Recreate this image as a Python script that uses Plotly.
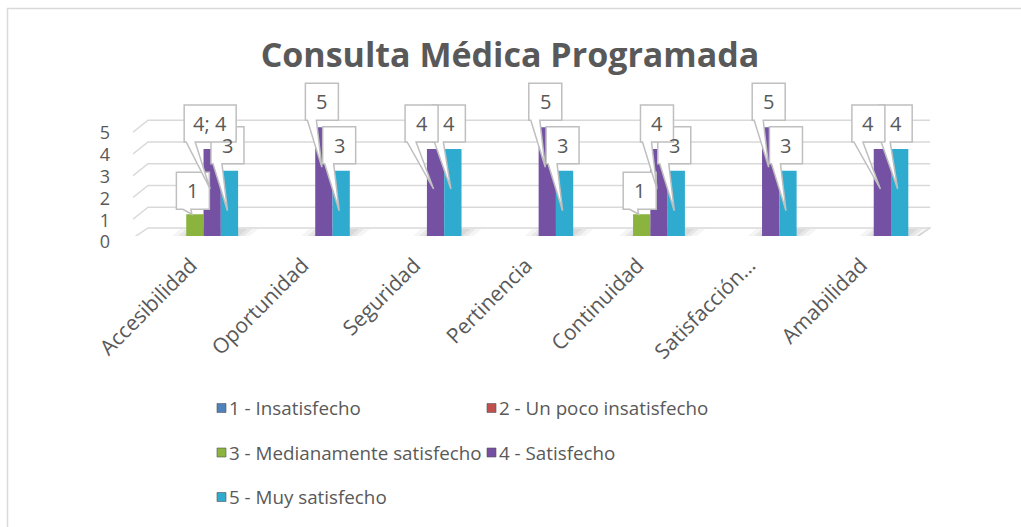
import plotly.graph_objects as go

# ---- data -------------------------------------------------------------
categories = ["Accesibilidad", "Oportunidad", "Seguridad", "Pertinencia",
              "Continuidad", "Satisfacción…", "Amabilidad"]
series_names = ["1 - Insatisfecho", "2 - Un poco insatisfecho",
                "3 - Medianamente satisfecho", "4 - Satisfecho",
                "5 - Muy satisfecho"]
insatisfecho = [0, 0, 0, 0, 0, 0, 0]
poco_insatisfecho = [0, 0, 0, 0, 0, 0, 0]
medianamente_satisfecho = [1, 0, 0, 0, 1, 0, 0]
satisfecho = [4, 5, 4, 5, 4, 5, 4]
muy_satisfecho = [3, 3, 4, 3, 3, 3, 4]
y_ticks = [0, 1, 2, 3, 4, 5]
# the Accesibilidad label of "4 - Satisfecho" is printed as "4; 4"
doubled_label = {(3, 0)}

series_values = [insatisfecho, poco_insatisfecho, medianamente_satisfecho,
                 satisfecho, muy_satisfecho]
bar_colors = ["#4F81BD", "#C0504D", "#8AB43D", "#7451A3", "#2FABD0"]

# ---- geometry ---------------------------------------------------------
W, H = 1021, 527
M_L, M_R, M_T, M_B = 133, 90, 51, 291
PW, PH = W - M_L - M_R, H - M_T - M_B
X_RANGE = [-0.554, 6.59]
Y_RANGE = [0, 8.5]
BARGAP = 0.226
N = len(series_values)
SLOT = (1 - BARGAP) / N
SLOT_PX = SLOT * PW / (X_RANGE[1] - X_RANGE[0])
TXT = "#595959"
GRID = "#D9D9D9"
FONT = "Open Sans"


def px_x(px):
    return (px - M_L) / PW


def px_y(py):
    return (H - M_B - py) / PH


fig = go.Figure()
for name, vals, col in zip(series_names, series_values, bar_colors):
    fig.add_trace(go.Bar(
        x=list(range(len(categories))), y=vals, name=name,
        marker=dict(color=col, line=dict(width=0)),
        showlegend=False, hoverinfo="skip"))

shapes = []
annotations = []

# chart frame
shapes.append(dict(type="rect", xref="paper", yref="paper",
                   x0=px_x(7.5), y0=px_y(8.5), x1=px_x(1040), y1=px_y(560),
                   line=dict(color=GRID, width=1.5), fillcolor="rgba(0,0,0,0)",
                   layer="below"))

# floor of the 3-D box
shapes.append(dict(type="path", xref="x", yref="y", xsizemode="pixel",
                   ysizemode="pixel", xanchor=-0.5, yanchor=0,
                   path="M -6,-2 L 9,8 L 791,8 L 776,-2 Z",
                   fillcolor="white", line=dict(color=GRID, width=1.5),
                   layer="below"))
# back-wall gridlines with their slanted side-wall segment
for v in y_ticks[1:]:
    shapes.append(dict(type="path", xref="x", yref="y", xsizemode="pixel",
                       ysizemode="pixel", xanchor=-0.5, yanchor=v,
                       path="M -6,-5 L 9,7 L 791,7",
                       line=dict(color=GRID, width=1.5), layer="below"))

# soft floor shadow under each group of bars
for i in range(len(categories)):
    shown = [k for k in range(N) if series_values[k][i] > 0]
    if not shown:
        continue
    lft = (shown[0] - 2) * SLOT_PX - SLOT_PX / 2
    rgt = (shown[-1] - 2) * SLOT_PX + SLOT_PX / 2
    for grow, alpha in ((14, 0.05), (8, 0.07), (3, 0.08)):
        shapes.append(dict(
            type="path", xref="x", yref="y", xsizemode="pixel",
            ysizemode="pixel", xanchor=i, yanchor=0,
            path=(f"M {lft - grow},0 L {lft - grow + 8},7 "
                  f"L {rgt + grow + 6},7 L {rgt + grow - 2},0 Z"),
            fillcolor=f"rgba(60,60,60,{alpha})", line=dict(width=0),
            layer="below"))

# callout data labels
for k in (2, 4, 3):
    for i, v in enumerate(series_values[k]):
        if v <= 0:
            continue
        xb = i + (k - 2) * SLOT
        text = f"{v}; {v}" if (k, i) in doubled_label else f"{v}"
        w = 52 if len(text) > 1 else 33
        h = 37
        same = satisfecho[i] == muy_satisfecho[i]
        if k == 3 and same:
            dx = -14
        elif k == 4 and same:
            dx = -4
        else:
            dx = -2
        if v >= 3:
            gap, tipx, tipy = 7, -2, -40
            b1, b2 = dx - w / 2 + 2, dx - w / 2 + 11
        else:
            gap, tipx, tipy = 5, -3, 0
            b1, b2 = dx - 10, dx - 2
        left, right = dx - w / 2, dx + w / 2
        bot, top = gap, gap + h
        path = (f"M {left},{bot} L {b1},{bot} L {tipx},{tipy} L {b2},{bot} "
                f"L {right},{bot} L {right},{top} L {left},{top} Z")
        shapes.append(dict(type="path", xref="x", yref="y", xsizemode="pixel",
                           ysizemode="pixel", xanchor=xb, yanchor=v, path=path,
                           fillcolor="white", line=dict(color="#BFBFBF", width=1.5),
                           layer="above"))
        annotations.append(dict(x=xb, y=v, xref="x", yref="y", text=text,
                                showarrow=False, xshift=dx, yshift=gap + h / 2,
                                xanchor="center", yanchor="middle",
                                font=dict(family=FONT, size=20, color=TXT)))

# legend (two columns)
for idx, (name, col) in enumerate(zip(series_names, bar_colors)):
    row, c = divmod(idx, 2)
    cx = 217 + c * 270
    cy = 408 + row * 44.5
    shapes.append(dict(type="rect", xref="paper", yref="paper",
                       x0=px_x(cx), x1=px_x(cx + 9),
                       y0=px_y(cy + 4.5), y1=px_y(cy - 4.5),
                       fillcolor=col, line=dict(color="#555555", width=0.6)))
    annotations.append(dict(x=px_x(cx + 10), y=px_y(cy), xref="paper", yref="paper",
                            text=name, showarrow=False, xanchor="left",
                            yanchor="middle",
                            font=dict(family=FONT, size=18.8, color=TXT)))

fig.update_layout(
    width=W, height=H, autosize=False,
    margin=dict(l=M_L, r=M_R, t=M_T, b=M_B, pad=0),
    paper_bgcolor="white", plot_bgcolor="rgba(0,0,0,0)",
    barmode="group", bargap=BARGAP, bargroupgap=0,
    title=dict(text="<b>Consulta Médica Programada</b>", x=510 / W, xanchor="center",
               y=1 - 55 / H, yanchor="middle",
               font=dict(family=FONT, size=34, color=TXT)),
    xaxis=dict(range=X_RANGE, tickvals=list(range(len(categories))),
               ticktext=categories, tickangle=-45, showgrid=False,
               zeroline=False, showline=False, ticks="",
               ticklabelstandoff=12, ticklabelshift=-4,
               tickfont=dict(family=FONT, size=21, color=TXT)),
    yaxis=dict(range=Y_RANGE, tickvals=y_ticks, ticktext=[str(t) for t in y_ticks],
               showgrid=False, zeroline=False, showline=False, ticks="",
               ticklabelshift=6, ticklabelstandoff=22,
               tickfont=dict(family=FONT, size=18, color=TXT)),
    shapes=shapes, annotations=annotations,
    showlegend=False,
)

fig.write_html("out.html")
